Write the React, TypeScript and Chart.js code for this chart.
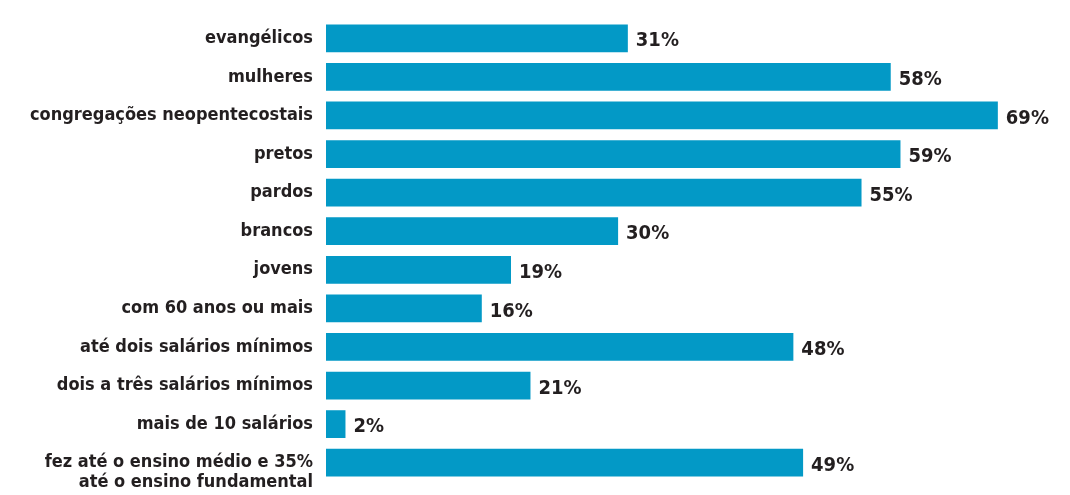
import React, { useEffect, useRef } from "react";
import { Chart, registerables } from "chart.js";

Chart.register(...registerables);

const categories: (string | string[])[] = [
  "evangélicos",
  "mulheres",
  "congregações neopentecostais",
  "pretos",
  "pardos",
  "brancos",
  "jovens",
  "com 60 anos ou mais",
  "até dois salários mínimos",
  "dois a três salários mínimos",
  "mais de 10 salários",
  ["fez até o ensino médio e 35%", "até o ensino fundamental"],
];

const values: number[] = [31, 58, 69, 59, 55, 30, 19, 16, 48, 21, 2, 49];

const BAR_COLOR = "#0399c6";
const TEXT_COLOR = "#231f20";
const FONT_FAMILY = "'DejaVu Sans Condensed', 'Liberation Sans Narrow', sans-serif";

const valueLabels = {
  id: "valueLabels",
  afterDatasetsDraw(chart: any) {
    const ctx = chart.ctx;
    const meta = chart.getDatasetMeta(0);
    ctx.save();
    ctx.fillStyle = TEXT_COLOR;
    ctx.font = `bold 20px ${FONT_FAMILY}`;
    ctx.textAlign = "left";
    ctx.textBaseline = "middle";
    meta.data.forEach((bar: any, i: number) => {
      ctx.fillText(`${values[i]}%`, bar.x + 8, bar.y + 3);
    });
    ctx.restore();
  },
};

export default function App() {
  const ref = useRef<HTMLCanvasElement | null>(null);

  useEffect(() => {
    if (!ref.current) return;
    const chart = new Chart(ref.current, {
      type: "bar",
      data: {
        labels: categories,
        datasets: [
          {
            data: values,
            backgroundColor: BAR_COLOR,
            borderWidth: 0,
            barPercentage: 0.72,
            categoryPercentage: 1,
          },
        ],
      },
      options: {
        indexAxis: "y",
        animation: false,
        responsive: false,
        maintainAspectRatio: false,
        layout: { padding: { top: 19, bottom: 13, left: 0, right: 4 } },
        plugins: {
          legend: { display: false },
          tooltip: { enabled: false },
        },
        scales: {
          x: {
            display: false,
            min: 0,
            max: 76,
          },
          y: {
            grid: { display: false, drawTicks: false },
            border: { display: false },
            ticks: {
              autoSkip: false,
              color: TEXT_COLOR,
              padding: 13,
              font: { family: FONT_FAMILY, size: 18, weight: "bold", lineHeight: 1.1 },
            },
            afterTickToLabelConversion(scale: any) {
              // first line of a two-line label sits level with its bar, the second below it
              scale.ticks.forEach((t: any) => {
                if (Array.isArray(t.label)) t.label = ["", ...t.label];
              });
            },
            afterFit(scale: any) {
              scale.width = 326;
              scale.paddingTop = 0;
              scale.paddingBottom = 0;
            },
          },
        },
      },
      plugins: [valueLabels],
    });
    return () => chart.destroy();
  }, []);

  return (
    <div style={{ position: "fixed", left: 0, top: 0, width: 1070, height: 495, background: "#fff" }}>
      <canvas ref={ref} width={1070} height={495} style={{ width: 1070, height: 495 }} />
    </div>
  );
}
